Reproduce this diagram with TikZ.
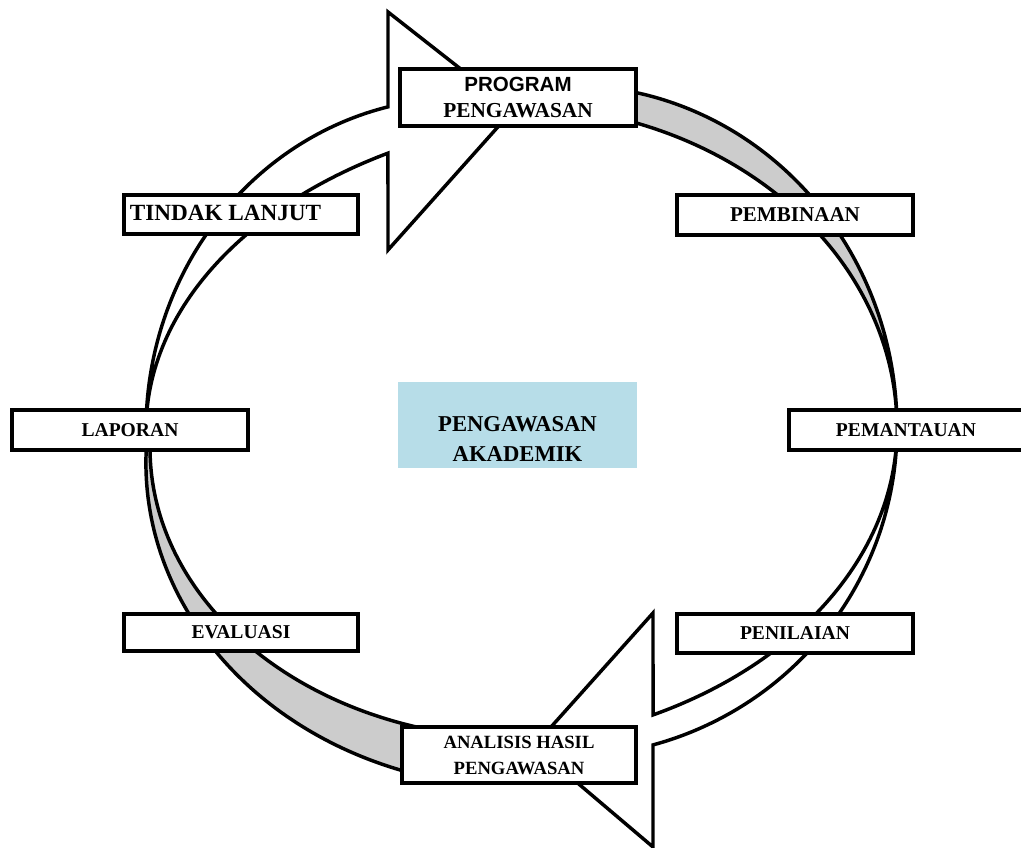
\documentclass[tikz,border=0pt]{standalone}
\usepackage{fontspec}
\setmainfont{Liberation Serif}
\newfontfamily\arialb{Liberation Sans}
\definecolor{ribgray}{RGB}{204,204,204}
\definecolor{acadblue}{RGB}{183,221,232}
\begin{document}
\begin{tikzpicture}[x=0.75pt,y=-0.75pt,
  ribbon/.style={draw=black, line width=2.6pt, line join=miter, miter limit=10},
  graypart/.style={ribbon, fill=ribgray},
  whitepart/.style={ribbon, fill=white},
  box/.style={draw=black, fill=white, line width=3pt, inner sep=0pt, align=center, rectangle},
  lbl/.style={font=\bfseries\fontsize{14.7pt}{18pt}\selectfont},
  ep/.style={samples=80, variable=\t, smooth}]
\useasboundingbox (0,0) rectangle (1021,848);

% gray back part of upper-right arrow
\draw[graypart] plot[ep, domain=-84.7:0] ({570+327*cos(\t)},{428+342.5*sin(\t)})
  -- plot[ep, domain=0:-76.55] ({510+387*cos(\t)},{428+322.7*sin(\t)}) -- cycle;
% gray back part of lower-left arrow
\draw[graypart] plot[ep, domain=185.84:104.04] ({521+375.1*cos(\t)},{463+324.3*sin(\t)})
  -- plot[ep, domain=104.2:183.55] ({521+371*cos(\t)},{448+290.8*sin(\t)}) -- cycle;
% white front part with arrowhead (bottom)
\coordinate (bA1) at (653,613);
\coordinate (tipA) at (534,746);
\coordinate (bA2) at (653,847);
\draw[whitepart] plot[ep, domain=0:64.2] ({465+432*cos(\t)},{428+318.7*sin(\t)})
  -- (bA1) -- (tipA) -- (bA2)
  -- plot[ep, domain=74.63:0] ({565+332*cos(\t)},{428+328.7*sin(\t)}) -- cycle;
% white front part with arrowhead (top)
\coordinate (bB1) at (388,12);
\coordinate (tipB) at (513,110);
\coordinate (bB2) at (388,250);
\draw[whitepart] plot[ep, domain=180:256.74] ({460+314*cos(\t)},{430+332*sin(\t)})
  -- (bB1) -- (tipB) -- (bB2)
  -- plot[ep, domain=240.69:180] ({620+474*cos(\t)},{430+317.5*sin(\t)}) -- cycle;

% center box
\node[fill=acadblue, inner sep=0pt, minimum width=179.25pt, minimum height=64.5pt] (center) at (517.5,425) {};
\node[align=center, inner sep=0pt, font=\bfseries\fontsize{17pt}{22.5pt}\selectfont] (centerlbl) at (517.5,439) {PENGAWASAN\\AKADEMIK};

% boxes
\node[box, minimum width=177pt, minimum height=42.75pt, font=\bfseries\fontsize{15.4pt}{19.5pt}\selectfont] (prog) at (518,97.5) {{\arialb PROGRAM}\\{\fontsize{16pt}{19.5pt}\selectfont PENGAWASAN}};
\node[box, minimum width=177pt, minimum height=30pt, font=\bfseries\fontsize{15.8pt}{18pt}\selectfont] (pemb) at (795,215) {PEMBINAAN};
\node[box, lbl, minimum width=175.5pt, minimum height=30pt] (pemant) at (906,430) {PEMANTAUAN};
\node[box, lbl, minimum width=177pt, minimum height=29.25pt] (penil) at (795,633.5) {PENILAIAN};
\node[box, minimum width=175.5pt, minimum height=42pt, font=\bfseries\fontsize{14pt}{19.5pt}\selectfont] (anal) at (519,755) {ANALISIS HASIL\\PENGAWASAN};
\node[box, lbl, minimum width=175.5pt, minimum height=27.75pt] (eval) at (241,632.5) {EVALUASI};
\node[box, lbl, minimum width=177pt, minimum height=30pt] (lapor) at (130,430) {LAPORAN};
\node[box, minimum width=175.5pt, minimum height=29.25pt] (tindak) at (241,214.5) {};
\node[inner sep=0pt, font=\bfseries\fontsize{17.4pt}{18pt}\selectfont] (tindaklbl) at (225.5,213) {TINDAK LANJUT};
\end{tikzpicture}
\end{document}
